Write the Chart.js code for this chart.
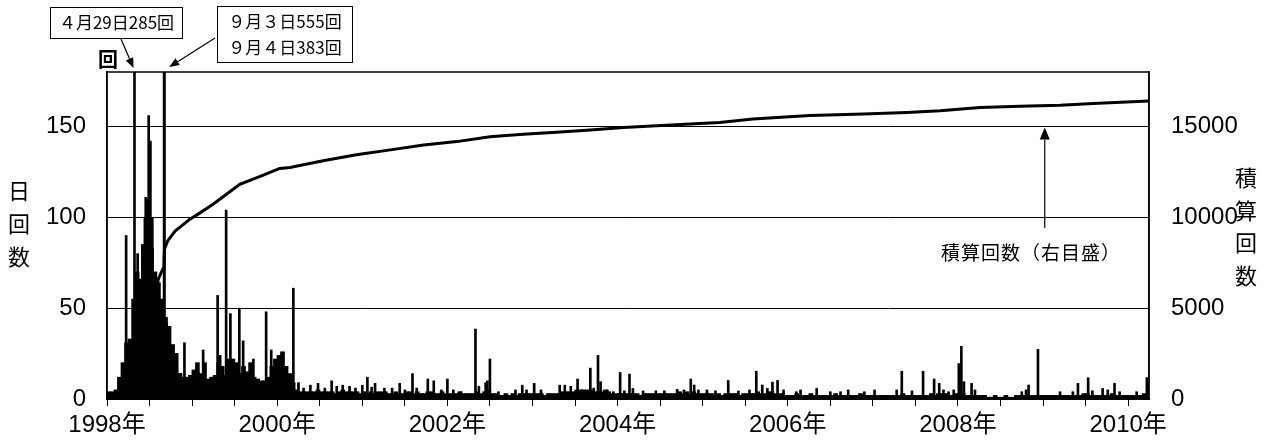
<!DOCTYPE html>
<html>
<head>
<meta charset="utf-8">
<script src="https://cdn.jsdelivr.net/npm/chart.js@4"></script>
<style>
  html, body { margin: 0; padding: 0; background: #fff; }
  #wrap { width: 1271px; height: 445px; position: relative; }
</style>
</head>
<body>
<div id="wrap"><canvas id="myChart"></canvas></div>
<script>
// daily count level, two bins per month (1998.0 .. 2010.25)
const floor1998 = [4,4,5,12,20,31,33,55,70,62,85,110,100,70,64,55,45,40,30,25,14,12,12,13];
const floor1999 = [16,20,14,20,11,12,13,20,18,13,22,22,20,14,18,15,20,12,11,10,10,12,18,22];
const floor2000 = [24,26,18,14,9,5,4,4,4,4,4,5,4,4,4,4,3,4,5,4,4,4,4,3];
const floor2001 = [4,3,4,3,4,4,4,3,3,4,3,3,4,4,3,4,3,3,4,4,3,3,4,3];
const floor2002 = [3,3,3,4,3,3,3,3,4,3,4,5,3,3,2,2,3,2,3,2,3,3,3,3];
const floor2003 = [3,3,3,2,3,3,3,3,4,4,4,4,5,5,5,5,5,4,4,4,5,4,3,3];
const floor2004 = [3,3,3,3,3,3,2,3,3,3,3,3,3,3,3,3,3,4,3,4,3,4,3,3];
const floor2005 = [3,3,3,2,3,2,3,3,3,3,2,3,3,3,3,4,3,3,4,4,3,3,3,2];
const floor2006 = [2,2,3,2,2,2,3,2,2,2,2,2,2,3,2,2,2,2,2,2,3,2,2,2];
const floor2007 = [2,2,2,2,2,2,2,2,3,2,2,2,2,2,2,2,3,2,3,3,3,2,2,3];
const floor2008 = [3,3,2,2,2,2,2,2,1,1,2,1,1,2,1,1,2,2,2,2,2,2,2,2];
const floor2009 = [2,2,2,2,2,2,2,2,2,2,2,3,3,2,2,2,2,2,2,3,2,2,2,2];
const floor2010 = [2,2,2,2,3,2];

// single-day peaks (decimal year, count)
const spikeDates = [
  1998.225, 1998.323, 1998.36, 1998.385, 1998.40, 1998.415, 1998.445, 1998.455, 1998.49, 1998.51, 1998.535, 1998.60, 1998.625,
  1998.671, 1998.674, 1998.70, 1998.82, 1998.87, 1998.91,
  1999.13, 1999.30, 1999.33, 1999.40, 1999.45, 1999.555, 1999.60, 1999.72, 1999.87, 1999.93,
  2000.19, 2000.25, 2000.31, 2000.39, 2000.48, 2000.56, 2000.64, 2000.70, 2000.77, 2000.85, 2000.92,
  2001.00, 2001.06, 2001.11, 2001.15, 2001.26, 2001.35, 2001.44, 2001.50, 2001.59, 2001.64, 2001.77, 2001.84, 2001.93,
  2002.00, 2002.07, 2002.16, 2002.33, 2002.37, 2002.45, 2002.47, 2002.50, 2002.60, 2002.80, 2002.88, 2002.93,
  2003.02, 2003.10, 2003.32, 2003.38, 2003.45, 2003.53, 2003.58, 2003.68, 2003.72, 2003.77, 2003.80, 2003.88, 2003.95,
  2004.03, 2004.08, 2004.14, 2004.18, 2004.30, 2004.45, 2004.55, 2004.70, 2004.78, 2004.86, 2004.90, 2004.95,
  2005.05, 2005.15, 2005.30, 2005.42, 2005.55, 2005.63, 2005.70, 2005.76, 2005.82, 2005.88, 2005.95,
  2006.10, 2006.15, 2006.34, 2006.50, 2006.62, 2006.71, 2006.90,
  2007.02, 2007.28, 2007.34, 2007.46, 2007.59, 2007.72, 2007.78, 2007.83, 2007.89, 2007.95,
  2008.01, 2008.04, 2008.07, 2008.16, 2008.20, 2008.75, 2008.80, 2008.83, 2008.94,
  2009.20, 2009.35, 2009.41, 2009.53, 2009.58, 2009.70, 2009.76, 2009.84, 2009.90,
  2010.10, 2010.22
];
const spikeCounts = [
  90, 285, 80, 66, 58, 85, 100, 111, 156, 142, 83, 66, 48,
  555, 383, 42, 25, 14, 31,
  27, 57, 24, 104, 47, 50, 32, 22, 48, 27,
  61, 9, 6, 7.6, 8.6, 6, 10, 7, 7.6, 7, 6,
  7.6, 12, 6.5, 8.6, 6, 6, 8.6, 5, 14, 6, 11, 10, 5,
  11, 5, 4, 38.5, 7, 9, 10, 22, 4, 5, 7.6, 5,
  8.6, 5, 7.6, 7.6, 7, 11, 5, 17, 6, 24, 9.5, 5, 4,
  14.6, 4.5, 13.7, 5.8, 4.4, 4.5, 4.5, 5.3, 5, 11, 7.7, 5,
  5, 4.5, 10.2, 4.4, 5, 15.3, 7.7, 5.8, 9.3, 10.2, 5,
  4, 5, 5.8, 4, 4, 5, 4,
  5, 5, 15.3, 4.5, 15.3, 11, 8.6, 5, 4, 5,
  19.5, 29, 9.5, 8.6, 5, 4, 5, 7.7, 27.3,
  4, 4, 8.6, 11.7, 4.5, 5.8, 5, 8.6, 4,
  4, 11.8
];

// cumulative count (right axis)
const cumDates = [1998.0, 1998.15, 1998.25, 1998.32, 1998.327, 1998.40, 1998.45, 1998.50, 1998.55, 1998.584,
  1998.66, 1998.669, 1998.672, 1998.675, 1998.713, 1998.80, 1998.975, 1999.093, 1999.246, 1999.42, 1999.56,
  1999.80, 2000.03, 2000.15, 2000.54, 2000.93, 2001.33, 2001.72, 2002.11, 2002.50, 2002.89, 2003.28, 2003.68,
  2004.07, 2004.46, 2004.85, 2005.20, 2005.59, 2006.26, 2006.89, 2007.40, 2007.79, 2008.26, 2008.73, 2009.20,
  2009.59, 2009.98, 2010.245];
const cumTotals = [0, 150, 600, 1300, 1600, 2700, 3800, 5000, 5900, 6400,
  7200, 7300, 7860, 8240, 8700, 9245, 9900, 10246, 10721, 11323, 11815,
  12253, 12690, 12745, 13111, 13440, 13714, 13987, 14168, 14441, 14567, 14677, 14808,
  14950, 15043, 15134, 15223, 15408, 15605, 15682, 15770, 15863, 16043, 16120, 16174,
  16262, 16355, 16410];

const leftTicks = [0, 50, 100, 150];
const rightTicks = [0, 5000, 10000, 15000];

const xMin = 1998, xMax = 2010.245;
const tickFont = { family: "'Liberation Sans', 'Noto Sans CJK JP', sans-serif", size: 24 };
const jpFont = "'Noto Sans CJK JP', sans-serif";

const floorLevels = [].concat(floor1998, floor1999, floor2000, floor2001, floor2002, floor2003,
  floor2004, floor2005, floor2006, floor2007, floor2008, floor2009, floor2010);
const floorData = floorLevels.map((v, i) => ({ x: xMin + (i + 0.5) / 24, y: v }));
const spikeData = spikeDates.map((d, i) => ({ x: d, y: spikeCounts[i] }));
const cumData = cumDates.map((d, i) => ({ x: d, y: cumTotals[i] }));

function arrow(ctx, x1, y1, x2, y2, head, width) {
  const a = Math.atan2(y2 - y1, x2 - x1);
  const bx = x2 - head * Math.cos(a), by = y2 - head * Math.sin(a);
  ctx.beginPath();
  ctx.moveTo(x1, y1);
  ctx.lineTo(bx, by);
  ctx.stroke();
  ctx.beginPath();
  ctx.moveTo(x2, y2);
  ctx.lineTo(bx + width / 2 * Math.sin(a), by - width / 2 * Math.cos(a));
  ctx.lineTo(bx - width / 2 * Math.sin(a), by + width / 2 * Math.cos(a));
  ctx.closePath();
  ctx.fill();
}

const decor = {
  id: "decor",
  afterDraw(chart) {
    const { ctx, chartArea: a } = chart;
    const xs = chart.scales.x, y2 = chart.scales.y2;
    ctx.save();
    ctx.strokeStyle = "#000";
    ctx.fillStyle = "#000";
    ctx.lineWidth = 1.5;
    ctx.strokeRect(a.left, a.top, a.right - a.left, a.bottom - a.top);

    ctx.textAlign = "center";
    ctx.textBaseline = "middle";
    // axis titles
    ctx.font = "bold 20px " + jpFont;
    ctx.fillText("回", 108, 59);
    ctx.font = "22px " + jpFont;
    ["日", "回", "数"].forEach((c, i) => ctx.fillText(c, 19, 191 + i * 33));
    ["積", "算", "回", "数"].forEach((c, i) => ctx.fillText(c, 1246, 178 + i * 32.5));

    // callouts
    ctx.lineWidth = 1;
    ctx.font = "17px " + jpFont;
    ctx.strokeRect(50.5, 7.5, 132, 31);
    ctx.fillText("４月29日285回", 116.5, 23);
    ctx.strokeRect(217.5, 6.5, 135, 56);
    ctx.fillText("９月３日555回", 285, 22);
    ctx.fillText("９月４日383回", 285, 48);
    ctx.lineWidth = 1.2;
    arrow(ctx, 121, 39, xs.getPixelForValue(1998.323) - 1, a.top - 4, 10, 8);
    arrow(ctx, 215, 38, xs.getPixelForValue(1998.672) + 5, a.top - 5, 10, 8);

    const ax = xs.getPixelForValue(2009.02);
    arrow(ctx, ax, 228, ax, y2.getPixelForValue(15000) + 1, 12, 10);
    ctx.font = "19px " + jpFont;
    ctx.letterSpacing = "1px";
    ctx.fillText("積算回数（右目盛）", 1031, 253);
    ctx.restore();
  }
};

new Chart(document.getElementById("myChart"), {
  type: "bar",
  data: {
    datasets: [
      {
        type: "line",
        data: cumData,
        yAxisID: "y2",
        borderColor: "#000",
        borderWidth: 3,
        pointRadius: 0,
        tension: 0,
        order: 0
      },
      {
        data: spikeData,
        yAxisID: "y",
        backgroundColor: "#000",
        barThickness: 2,
        grouped: false,
        order: 1
      },
      {
        data: floorData,
        yAxisID: "y",
        backgroundColor: "#000",
        barThickness: 4,
        grouped: false,
        order: 2
      }
    ]
  },
  options: {
    responsive: true,
    maintainAspectRatio: false,
    animation: false,
    layout: { padding: { top: 72, left: 0, right: 0, bottom: 0 } },
    plugins: { legend: { display: false }, tooltip: { enabled: false } },
    scales: {
      x: {
        type: "linear",
        min: xMin,
        max: xMax,
        offset: false,
        grid: { offset: false, drawOnChartArea: false, color: "#000", tickLength: 7 },
        border: { color: "#000", width: 1.5 },
        ticks: {
          stepSize: 0.5,
          includeBounds: false,
          autoSkip: false,
          maxRotation: 0,
          padding: 5,
          color: "#000",
          font: tickFont,
          callback: v => (Number.isInteger(v) && v % 2 === 0) ? v + "年" : ""
        },
        afterFit: s => { s.height = 46; }
      },
      y: {
        position: "left",
        min: 0,
        max: 180,
        grid: { color: "#000", lineWidth: 1, drawTicks: false },
        border: { color: "#000", width: 1.5 },
        afterBuildTicks: s => { s.ticks = leftTicks.map(v => ({ value: v })); },
        ticks: { padding: 21, color: "#000", font: tickFont, callback: v => String(v) },
        afterFit: s => { s.width = 107; }
      },
      y2: {
        position: "right",
        min: 0,
        max: 18000,
        grid: { drawOnChartArea: false, drawTicks: false },
        border: { color: "#000", width: 1.5 },
        afterBuildTicks: s => { s.ticks = rightTicks.map(v => ({ value: v })); },
        ticks: { padding: 22, color: "#000", font: tickFont, callback: v => String(v) },
        afterFit: s => { s.width = 122; }
      }
    }
  },
  plugins: [decor]
});
</script>
</body>
</html>
